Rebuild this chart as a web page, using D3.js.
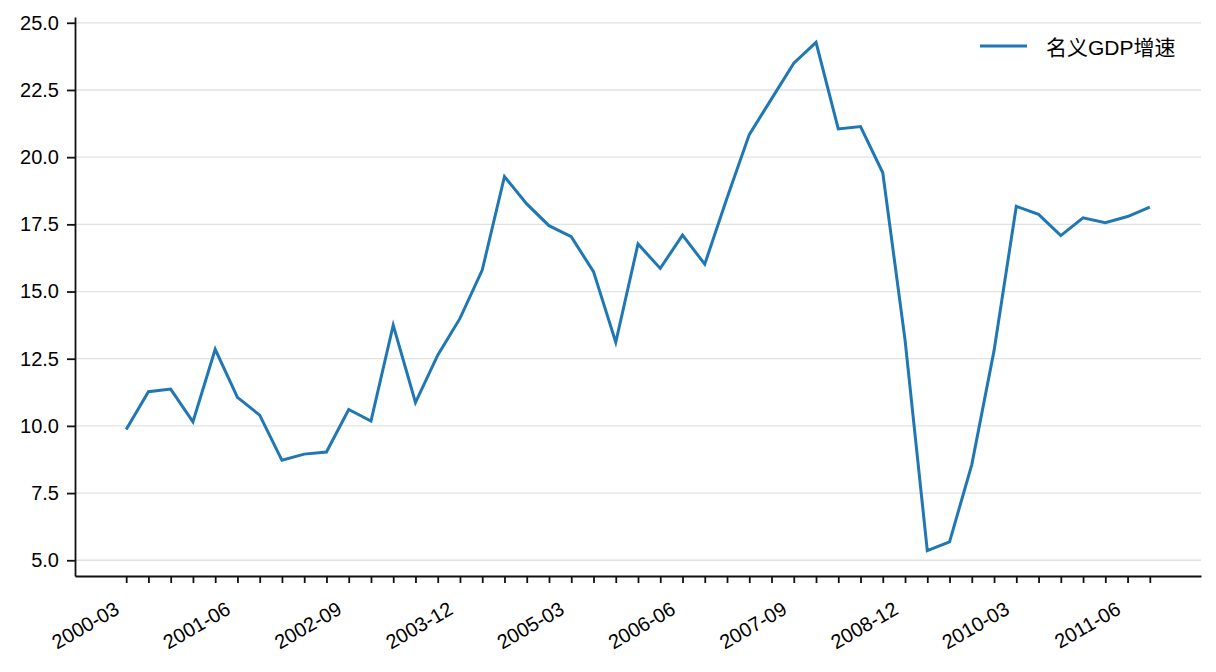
<!DOCTYPE html>
<html>
<head>
<meta charset="utf-8">
<script src="https://cdn.jsdelivr.net/npm/d3@7"></script>
<style>
  body { margin: 0; background: #fff; }
  svg { display: block; }
  text { font-family: "Liberation Sans", Arial, "Noto Sans CJK SC", sans-serif; fill: #000; }
</style>
</head>
<body>
<div id="chart"></div>
<script>
var quarters = ["2000-03","2000-06","2000-09","2000-12","2001-03","2001-06","2001-09","2001-12",
  "2002-03","2002-06","2002-09","2002-12","2003-03","2003-06","2003-09","2003-12",
  "2004-03","2004-06","2004-09","2004-12","2005-03","2005-06","2005-09","2005-12",
  "2006-03","2006-06","2006-09","2006-12","2007-03","2007-06","2007-09","2007-12",
  "2008-03","2008-06","2008-09","2008-12","2009-03","2009-06","2009-09","2009-12",
  "2010-03","2010-06","2010-09","2010-12","2011-03","2011-06","2011-09"];

var gdpGrowth = [9.87, 11.27, 11.37, 10.15, 12.85, 11.06, 10.40, 8.72,
  8.95, 9.03, 10.61, 10.18, 13.75, 10.87, 12.63, 14.0,
  15.80, 19.28, 18.26, 17.45, 17.04, 15.74, 13.11, 16.77,
  15.86, 17.10, 16.02, 18.48, 20.84, 22.17, 23.50, 24.27,
  21.05, 21.14, 19.42, 13.2, 5.36, 5.68, 8.56, 12.8,
  18.17, 17.87, 17.08, 17.74, 17.56, 17.79, 18.14];

var xTickLabels = ["2000-03","2001-06","2002-09","2003-12","2005-03","2006-06","2007-09","2008-12","2010-03","2011-06"];
var yTicks = [5.0, 7.5, 10.0, 12.5, 15.0, 17.5, 20.0, 22.5, 25.0];
var seriesName = "名义GDP增速";

var width = 1216,
height = 672,
plotLeft = 75, plotRight = 1201, plotTop = 17, plotBottom = 576;

var svg = d3.select("#chart").append("svg")
  .attr("width", width)
  .attr("height", height);

var n = gdpGrowth.length;
var padX = (n - 1) * 0.05;
var x = d3.scaleLinear().domain([-padX, n - 1 + padX]).range([plotLeft, plotRight]);

var ext = d3.extent(gdpGrowth);
var padY = (ext[1] - ext[0]) * 0.05;
var y = d3.scaleLinear().domain([ext[0] - padY, ext[1] + padY]).range([plotBottom, plotTop]);

// grid
svg.append("g").selectAll("line")
  .data(yTicks)
  .enter().append("line")
  .attr("x1", plotLeft).attr("x2", plotRight)
  .attr("y1", function(d) { return y(d); })
  .attr("y2", function(d) { return y(d); })
  .attr("stroke", "#e2e2e2")
  .attr("stroke-width", 1.3);

// y axis
var yAxis = svg.append("g")
  .attr("transform", "translate(" + plotLeft + ",0)")
  .call(d3.axisLeft(y).tickValues(yTicks).tickFormat(d3.format(".1f")).tickSize(8).tickSizeOuter(0).tickPadding(8));
yAxis.select(".domain").attr("stroke", "#111").attr("stroke-width", 1.8);
yAxis.selectAll(".tick line").attr("stroke", "#111").attr("stroke-width", 1.8);
yAxis.selectAll(".tick text").style("font-size", "20px");

// x axis
var idx = d3.range(n);
var xAxis = svg.append("g")
  .attr("transform", "translate(0," + plotBottom + ")")
  .call(d3.axisBottom(x).tickValues(idx)
    .tickFormat(function(i) { return xTickLabels.indexOf(quarters[i]) >= 0 ? quarters[i] : ""; })
    .tickSize(7).tickSizeOuter(0));
xAxis.select(".domain").attr("stroke", "#111").attr("stroke-width", 1.8);
xAxis.selectAll(".tick line").attr("stroke", "#111").attr("stroke-width", 1.8);
xAxis.selectAll(".tick text")
  .style("font-size", "20px")
  .attr("text-anchor", "end")
  .attr("dy", null)
  .attr("y", 0)
  .attr("transform", "translate(-6,37) rotate(-30)");

// line
var line = d3.line()
  .x(function(d, i) { return x(i); })
  .y(function(d) { return y(d); });

svg.append("path")
  .datum(gdpGrowth)
  .attr("fill", "none")
  .attr("stroke", "#1f77b4")
  .attr("stroke-width", 3)
  .attr("stroke-linejoin", "miter")
  .attr("d", line);

// legend
var lg = svg.append("g").attr("transform", "translate(980,46)");
lg.append("line")
  .attr("x1", 0).attr("x2", 47)
  .attr("stroke", "#1f77b4").attr("stroke-width", 3);
lg.append("text")
  .attr("x", 66).attr("y", 9)
  .style("font-size", "21px")
  .text(seriesName);
</script>
</body>
</html>
